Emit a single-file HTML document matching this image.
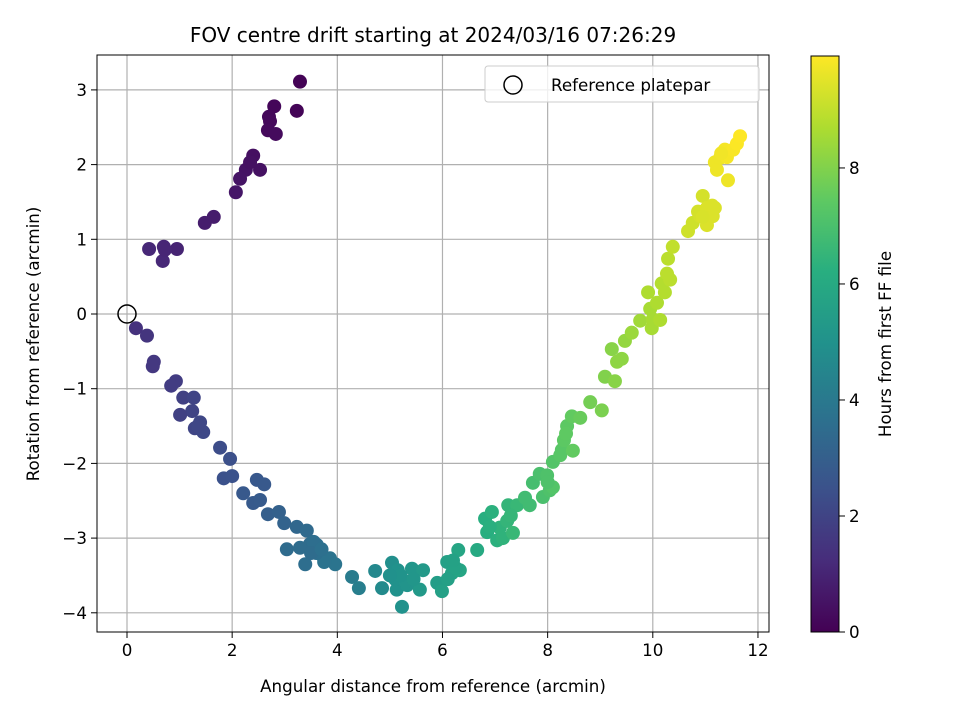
<!DOCTYPE html>
<html><head><meta charset="utf-8"><style>
body{margin:0;background:#fff}
svg text{font-family:"DejaVu Sans","Liberation Sans",sans-serif;fill:#000}
</style></head><body>
<svg id="chart" width="960" height="720" xmlns="http://www.w3.org/2000/svg">
<defs><linearGradient id="vir" x1="0" y1="1" x2="0" y2="0">
<stop offset="0" stop-color="#440154"/><stop offset="0.125" stop-color="#472d7b"/><stop offset="0.25" stop-color="#3b528b"/><stop offset="0.375" stop-color="#2c728e"/><stop offset="0.5" stop-color="#21918c"/><stop offset="0.625" stop-color="#28ae80"/><stop offset="0.75" stop-color="#5ec962"/><stop offset="0.875" stop-color="#addc30"/><stop offset="1" stop-color="#fde725"/></linearGradient></defs>
<text x="433" y="42" font-size="20" text-anchor="middle">FOV centre drift starting at 2024/03/16 07:26:29</text>
<g id="grid"></g><g id="pts"></g><g id="axes"></g>
<text x="433" y="692" font-size="16.7" text-anchor="middle">Angular distance from reference (arcmin)</text>
<text transform="translate(39,344) rotate(-90)" font-size="16.7" text-anchor="middle">Rotation from reference (arcmin)</text>
<g>
<rect x="485" y="66" width="274" height="36" rx="3" fill="#fff" fill-opacity="0.8" stroke="#ccc"/>
<circle cx="513" cy="85" r="9" fill="none" stroke="#000" stroke-width="1.5"/>
<text x="551" y="91" font-size="16.7">Reference platepar</text></g>
<rect x="811" y="56" width="28" height="576" fill="url(#vir)" stroke="#000" stroke-width="1"/>
<g id="cbticks"></g>
<text transform="translate(891,344) rotate(-90)" font-size="16.7" text-anchor="middle">Hours from first FF file</text>
</svg>
<script>
const xs=[3.29,3.23,2.80,2.70,2.72,2.68,2.83,2.40,2.26,2.53,2.34,2.07,2.15,1.65,1.48,0.42,0.70,0.95,0.68,0.72,
0.17,0.38,0.51,0.49,0.93,0.84,1.07,1.27,1.24,1.01,1.39,1.29,1.45,1.77,1.96,1.84,2.00,2.47,2.61,2.21,2.40,2.53,2.68,2.89,2.99,3.23,3.42,3.48,3.04,3.29,3.39,3.61,3.71,3.86,3.96,3.75,4.28,4.41,4.72,4.85,5.04,5.15,5.23,5.13,5.33,5.42,5.57,5.63,5.90,5.99,6.09,6.18,6.30,6.33,6.66,6.81,6.85,6.94,7.04,7.09,7.15,7.23,7.25,7.34,7.42,7.57,7.66,7.72,7.85,7.91,7.99,8.04,8.10,8.10,8.24,8.27,8.31,8.37,8.46,8.48,8.62,8.81,9.03,9.09,9.22,9.28,9.32,9.41,9.47,9.60,9.76,9.95,9.98,10.00,10.08,10.14,9.91,10.23,10.17,10.27,10.33,10.29,10.38,10.67,10.76,10.86,10.90,10.95,11.03,11.03,11.14,11.13,11.18,11.18,11.22,11.28,11.37,11.41,11.43,11.53,11.60,11.66,
5.10,5.30,5.20,6.10,6.25,3.60,3.55,5.00,5.45,6.20,3.50,3.70,6.90,7.30,8.00,8.35,1.35,11.30,10.95];
const ys=[3.11,2.72,2.78,2.64,2.58,2.46,2.41,2.12,1.93,1.93,2.03,1.63,1.81,1.30,1.22,0.87,0.90,0.87,0.71,0.86,
-0.19,-0.29,-0.64,-0.70,-0.90,-0.96,-1.12,-1.12,-1.30,-1.35,-1.45,-1.53,-1.58,-1.79,-1.94,-2.20,-2.17,-2.22,-2.28,-2.40,-2.53,-2.49,-2.68,-2.65,-2.80,-2.85,-2.90,-3.08,-3.15,-3.13,-3.35,-3.09,-3.23,-3.27,-3.35,-3.32,-3.52,-3.67,-3.44,-3.67,-3.33,-3.43,-3.92,-3.69,-3.63,-3.41,-3.69,-3.43,-3.60,-3.71,-3.32,-3.47,-3.16,-3.43,-3.16,-2.74,-2.92,-2.65,-3.03,-2.86,-3.00,-2.77,-2.56,-2.93,-2.56,-2.46,-2.56,-2.26,-2.14,-2.45,-2.16,-2.36,-1.98,-2.32,-1.89,-1.82,-1.69,-1.50,-1.37,-1.83,-1.39,-1.18,-1.29,-0.84,-0.47,-0.90,-0.64,-0.60,-0.36,-0.25,-0.09,0.07,-0.19,-0.07,0.15,-0.08,0.29,0.29,0.41,0.54,0.46,0.74,0.90,1.11,1.22,1.37,1.31,1.58,1.19,1.42,1.31,1.45,1.42,2.03,1.93,2.09,2.20,2.10,1.79,2.20,2.28,2.38,
-3.55,-3.58,-3.50,-3.55,-3.40,-3.20,-3.05,-3.50,-3.55,-3.30,-3.20,-3.15,-2.85,-2.70,-2.25,-1.60,-1.50,2.15,1.30];
const hours=[0.05,0.1,0.15,0.2,0.22,0.25,0.28,0.4,0.5,0.45,0.45,0.6,0.55,0.75,0.8,1.1,1.05,1.0,1.1,1.05,
1.4,1.5,1.6,1.6,1.75,1.75,1.9,2.0,2.0,1.9,2.1,2.05,2.15,2.3,2.4,2.45,2.5,2.7,2.75,2.75,2.8,2.85,3.0,3.05,3.15,3.3,3.4,3.5,3.45,3.5,3.55,3.6,3.7,3.75,3.8,3.75,4.1,4.2,4.6,4.7,4.9,5.0,5.0,5.0,5.1,5.2,5.3,5.3,5.5,5.6,5.6,5.7,5.8,5.8,6.0,6.2,6.2,6.3,6.3,6.4,6.4,6.5,6.5,6.6,6.6,6.8,6.8,6.9,7.0,7.0,7.1,7.1,7.2,7.2,7.3,7.3,7.4,7.4,7.5,7.5,7.6,7.8,7.9,8.0,8.1,8.1,8.2,8.2,8.3,8.4,8.5,8.6,8.6,8.6,8.7,8.7,8.7,8.8,8.8,8.9,8.9,8.9,9.0,9.2,9.2,9.3,9.3,9.3,9.4,9.4,9.4,9.4,9.4,9.7,9.7,9.7,9.8,9.8,9.7,9.85,9.9,9.95,
5.0,5.1,5.05,5.6,5.7,3.6,3.55,4.95,5.2,5.65,3.5,3.65,6.25,6.55,7.1,7.45,2.1,9.75,9.35];
const xTicks=[0,2,4,6,8,10,12];
const yTicks=[-4,-3,-2,-1,0,1,2,3];
const cbTicks=[0,2,4,6,8];
const HMAX=9.93;
const L=97,R=769,T=55,B=632;
const X=v=>127+v*52.58, Y=v=>314-v*74.7;
const V=["#440154","#472d7b","#3b528b","#2c728e","#21918c","#28ae80","#5ec962","#addc30","#fde725"];
function hex(c){return [1,3,5].map(i=>parseInt(c.substr(i,2),16));}
function vir(t){t=Math.max(0,Math.min(1,t));const p=t*8,i=Math.min(7,Math.floor(p)),f=p-i;const a=hex(V[i]),b=hex(V[i+1]);return "rgb("+a.map((v,k)=>Math.round(v+(b[k]-v)*f)).join(",")+")";}
const NS="http://www.w3.org/2000/svg";
function mk(tag,at,par){const e=document.createElementNS(NS,tag);for(const k in at)e.setAttribute(k,at[k]);par.appendChild(e);return e;}
const fmt=v=>v<0?"\u2212"+Math.abs(v):String(v);
const grid=document.getElementById("grid"),axes=document.getElementById("axes"),pts=document.getElementById("pts"),cb=document.getElementById("cbticks");
xTicks.forEach(v=>{const x=X(v);
const g=mk("line",{x1:x,x2:x,y1:T,y2:B,stroke:"#b0b0b0","stroke-width":1.2},grid);


mk("line",{x1:x,x2:x,y1:B,y2:B+6,stroke:"#000"},axes);
const t=mk("text",{x:x,y:B+24,"font-size":16.7,"text-anchor":"middle"},axes);t.textContent=fmt(v);

});
yTicks.forEach(v=>{const y=Y(v);
const g=mk("line",{x1:L,x2:R,y1:y,y2:y,stroke:"#b0b0b0","stroke-width":1.2},grid);


mk("line",{x1:L-6,x2:L,y1:y,y2:y,stroke:"#000"},axes);
const t=mk("text",{x:L-10,y:y+6,"font-size":16.7,"text-anchor":"end"},axes);t.textContent=fmt(v);

});
const fr=mk("rect",{x:L,y:T,width:R-L,height:B-T,fill:"none",stroke:"#000","stroke-width":1},axes);


xs.forEach((v,i)=>{const c=mk("circle",{cx:X(v),cy:Y(ys[i]),r:7,fill:vir(hours[i]/HMAX)},pts);

});
const ref=mk("circle",{cx:X(0),cy:Y(0),r:9,fill:"none",stroke:"#000","stroke-width":1.5},pts);


cbTicks.forEach(v=>{const y=632-v/HMAX*576;
mk("line",{x1:839,x2:845,y1:y,y2:y,stroke:"#000"},cb);
const t=mk("text",{x:849,y:y+6,"font-size":16.7},cb);t.textContent=v;

});
</script>
</body></html>
